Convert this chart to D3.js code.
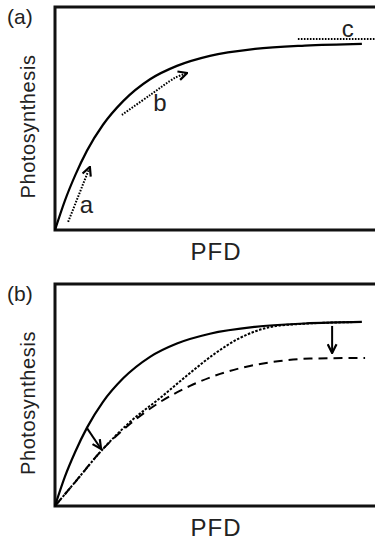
<!DOCTYPE html>
<html>
<head>
<meta charset="utf-8">
<script src="https://cdn.jsdelivr.net/npm/d3@7/dist/d3.min.js"></script>
<style>
  body { margin: 0; background: #fff; }
  svg { display: block; }
</style>
</head>
<body>
<script>
// ---- data (PFD and photosynthesis in relative units, 0-100) ----

// panel (a): light response curve
var pfdA   = [0, 3.1, 6.3, 10, 15, 21.3, 29.7, 38.1, 48.4, 62.5, 78.1, 95.9];
var photoA = [0, 13.2, 24.5, 35.6, 47.2, 57.8, 67.6, 73.6, 78.1, 81.2, 82.7, 83.5];

// panel (a) annotations: arrow a (initial slope), arrow b (curvature), line c (plateau)
var arrowAPfd   = [4.1, 10.9];
var arrowAPhoto = [3.6, 28.3];
var arrowBPfd   = [20.9, 29.7, 37.5, 41.3];
var arrowBPhoto = [51.6, 60.5, 68.2, 70.4];
var lineCPfd    = [75.9, 100];
var lineCPhoto  = [85.7, 85.7];
var labelsA = ["a", "b", "c"];
var labelPfd   = [9.8, 32.8, 91.5];
var labelPhoto = [7.6, 53.4, 86.5];

// panel (b): control curve (solid), recovered curve (dotted), depressed curve (dashed)
var pfdSolidB   = [0, 3.1, 6.3, 10, 15, 21.3, 29.7, 38.1, 48.4, 62.5, 78.1, 95.9];
var photoSolidB = [0, 13.2, 24.3, 35.3, 46.9, 57.5, 67.2, 73.2, 77.6, 80.7, 82.2, 82.9];
var pfdDotB     = [0, 6.3, 15, 23.4, 32.8, 42.2, 50, 57.8, 67.2, 76.6, 95.9];
var photoDotB   = [0, 10.8, 25.7, 37.8, 48.6, 59.9, 68.7, 75.7, 80.6, 82.0, 82.9];
var pfdDashB    = [0, 6.3, 15, 23.4, 32.8, 42.2, 51.6, 60.9, 70.3, 79.7, 96.9];
var photoDashB  = [0, 10.8, 25.7, 36.9, 46.8, 54.1, 59.5, 63.1, 65.3, 66.4, 66.7];

// panel (b) arrows: solid -> lower curves near origin, and at the plateau
var arrowLowPfd    = [10, 14.4];
var arrowLowPhoto  = [35.1, 25.7];
var arrowHighPfd   = [86.6, 86.6];
var arrowHighPhoto = [81.1, 68.9];

var width = 375, height = 540;
var left = 55, right = 375;

var svg = d3.select("body").append("svg")
  .attr("width", width)
  .attr("height", height);

var defs = svg.append("defs");
defs.append("marker")
  .attr("id", "head")
  .attr("viewBox", "0 0 10 10")
  .attr("refX", 9)
  .attr("refY", 5)
  .attr("markerWidth", 11)
  .attr("markerHeight", 11)
  .attr("markerUnits", "userSpaceOnUse")
  .attr("orient", "auto")
  .append("path")
  .attr("d", "M1,1 L9,5 L1,9")
  .attr("fill", "none")
  .attr("stroke", "#000")
  .attr("stroke-width", 2)
  .attr("stroke-dasharray", "none");

var x = d3.scaleLinear().domain([0, 100]).range([left, right]);

function zip(xs, ys) {
  return xs.map(function (v, i) { return [v, ys[i]]; });
}

function frame(top, bottom) {
  svg.append("path")
    .attr("d", "M" + (right + 5) + "," + top + "H" + left + "V" + bottom + "H" + (right + 5))
    .attr("fill", "none")
    .attr("stroke", "#111")
    .attr("stroke-width", 3);
}

function axisLabels(top, bottom, tag) {
  var mid = (top + bottom) / 2 + 8;
  svg.append("text")
    .attr("transform", "translate(35," + mid + ") rotate(-90)")
    .attr("text-anchor", "middle")
    .attr("font-family", "Liberation Sans, Arial, sans-serif")
    .attr("font-size", "20px")
    .attr("letter-spacing", "0.6px")
    .attr("fill", "#222")
    .text("Photosynthesis");

  svg.append("text")
    .attr("x", (left + right) / 2 + 1)
    .attr("y", bottom + 30)
    .attr("text-anchor", "middle")
    .attr("font-family", "Liberation Sans, Arial, sans-serif")
    .attr("font-size", "24px")
    .attr("letter-spacing", "1px")
    .attr("fill", "#222")
    .text("PFD");

  svg.append("text")
    .attr("x", 7)
    .attr("y", top + 17)
    .attr("font-family", "Liberation Sans, Arial, sans-serif")
    .attr("font-size", "21px")
    .attr("fill", "#222")
    .text(tag);
}

/* Panel (a) */
var topA = 7, bottomA = 230;
var yA = d3.scaleLinear().domain([0, 100]).range([bottomA, topA]);
var lineA = d3.line()
  .x(function (d) { return x(d[0]); })
  .y(function (d) { return yA(d[1]); })
  .curve(d3.curveMonotoneX);

frame(topA, bottomA);
axisLabels(topA, bottomA, "(a)");

svg.append("path")
  .attr("d", lineA(zip(pfdA, photoA)))
  .attr("fill", "none")
  .attr("stroke", "#000")
  .attr("stroke-width", 2.2);

// arrow a
svg.append("path")
  .attr("d", d3.line().x(function (d) { return x(d[0]); }).y(function (d) { return yA(d[1]); })(zip(arrowAPfd, arrowAPhoto)))
  .attr("fill", "none")
  .attr("stroke", "#000")
  .attr("stroke-width", 2)
  .attr("stroke-dasharray", "1.6,1.4")
  .attr("marker-end", "url(#head)");

// arrow b
svg.append("path")
  .attr("d", d3.line().x(function (d) { return x(d[0]); }).y(function (d) { return yA(d[1]); })
    .curve(d3.curveCatmullRom)(zip(arrowBPfd, arrowBPhoto)))
  .attr("fill", "none")
  .attr("stroke", "#000")
  .attr("stroke-width", 2)
  .attr("stroke-dasharray", "1.6,1.4")
  .attr("marker-end", "url(#head)");

// line c
svg.append("path")
  .attr("d", lineA(zip(lineCPfd, lineCPhoto)))
  .attr("fill", "none")
  .attr("stroke", "#000")
  .attr("stroke-width", 2)
  .attr("stroke-dasharray", "1.6,1.4");

svg.selectAll(".lab")
  .data(labelsA)
  .enter()
  .append("text")
  .attr("class", "lab")
  .attr("x", function (d, i) { return x(labelPfd[i]); })
  .attr("y", function (d, i) { return yA(labelPhoto[i]); })
  .attr("text-anchor", "middle")
  .attr("font-family", "Liberation Sans, Arial, sans-serif")
  .attr("font-size", "24px")
  .attr("fill", "#222")
  .text(function (d) { return d; });

/* Panel (b) */
var topB = 284, bottomB = 506;
var yB = d3.scaleLinear().domain([0, 100]).range([bottomB, topB]);
var lineB = d3.line()
  .x(function (d) { return x(d[0]); })
  .y(function (d) { return yB(d[1]); })
  .curve(d3.curveMonotoneX);

frame(topB, bottomB);
axisLabels(topB, bottomB, "(b)");

svg.append("path")
  .attr("d", lineB(zip(pfdDashB, photoDashB)))
  .attr("fill", "none")
  .attr("stroke", "#000")
  .attr("stroke-width", 2)
  .attr("stroke-dasharray", "9,6");

svg.append("path")
  .attr("d", lineB(zip(pfdDotB, photoDotB)))
  .attr("fill", "none")
  .attr("stroke", "#000")
  .attr("stroke-width", 2)
  .attr("stroke-dasharray", "2.5,1.5");

svg.append("path")
  .attr("d", lineB(zip(pfdSolidB, photoSolidB)))
  .attr("fill", "none")
  .attr("stroke", "#000")
  .attr("stroke-width", 2.2);

[[arrowLowPfd, arrowLowPhoto], [arrowHighPfd, arrowHighPhoto]].forEach(function (a) {
  svg.append("path")
    .attr("d", d3.line().x(function (d) { return x(d[0]); }).y(function (d) { return yB(d[1]); })(zip(a[0], a[1])))
    .attr("fill", "none")
    .attr("stroke", "#000")
    .attr("stroke-width", 2)
    .attr("marker-end", "url(#head)");
});
</script>
</body>
</html>
